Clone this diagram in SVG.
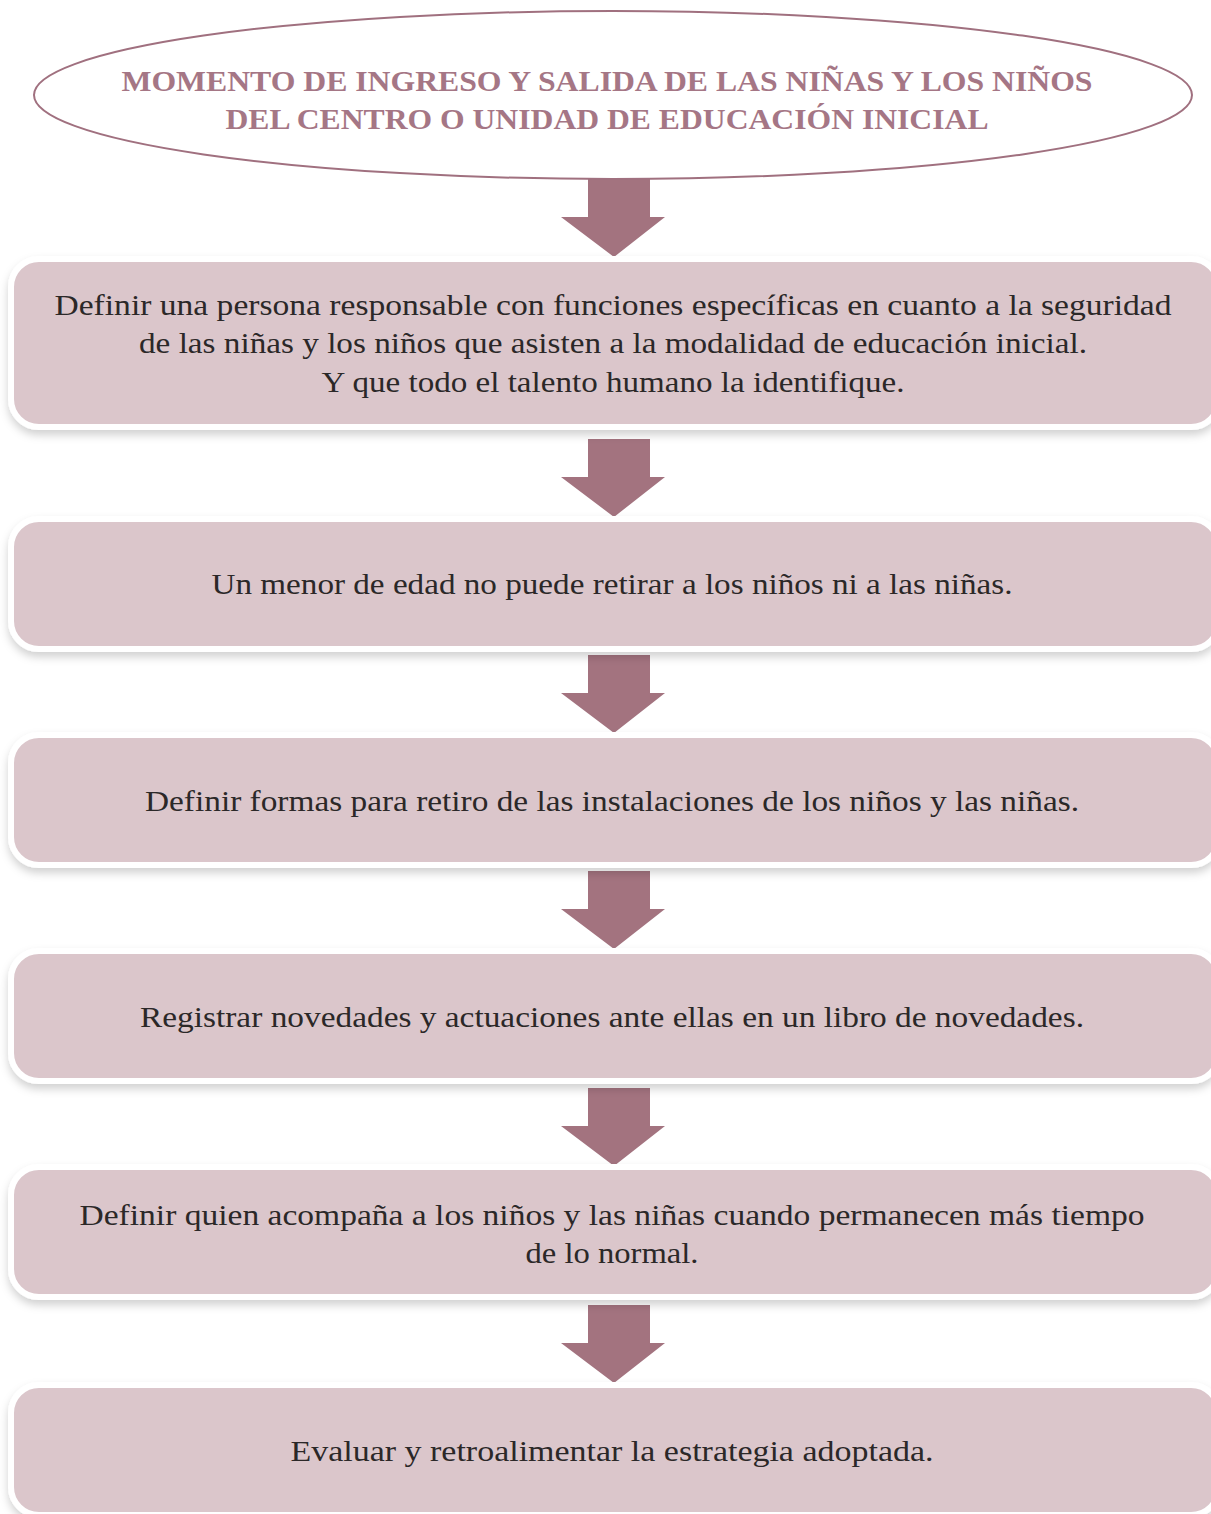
<svg xmlns="http://www.w3.org/2000/svg" width="1211" height="1514" viewBox="0 0 1211 1514">
<defs>
<filter id="sh" x="-5%" y="-20%" width="110%" height="150%">
<feDropShadow dx="0" dy="5" stdDeviation="4" flood-color="#000" flood-opacity="0.18"/>
</filter>
<path id="arr" d="M-26,0 H36 V38 H51 L0,78 L-53,38 H-26 Z"/>
</defs>
<style>
.box{fill:#dbc6cb;stroke:#ffffff;stroke-width:6;filter:url(#sh)}
.t{font-family:"Liberation Serif","DejaVu Serif",serif;font-size:29px;fill:#2b2828;text-anchor:middle}
.h{font-family:"Liberation Serif","DejaVu Serif",serif;font-size:30px;font-weight:bold;fill:#a57685;text-anchor:middle}
.a{fill:#a3737f}
</style>
<rect width="1211" height="1514" fill="#ffffff"/>
<g id="connectors">
<use href="#arr" class="a" x="614" y="179"/>
<use href="#arr" class="a" x="614" y="439"/>
<use href="#arr" class="a" x="614" y="655"/>
<use href="#arr" class="a" x="614" y="871"/>
<use href="#arr" class="a" x="614" y="1088"/>
<use href="#arr" class="a" x="614" y="1305"/>
</g>
<g id="title">
<ellipse cx="613" cy="95" rx="579" ry="84" fill="#ffffff" stroke="#a0707f" stroke-width="2"/>
<text class="h" x="607" y="91" textLength="971" lengthAdjust="spacingAndGlyphs">MOMENTO DE INGRESO Y SALIDA DE LAS NIÑAS Y LOS NIÑOS</text>
<text class="h" x="607" y="129" textLength="763" lengthAdjust="spacingAndGlyphs">DEL CENTRO O UNIDAD DE EDUCACIÓN INICIAL</text>
</g>
<g id="n1">
<rect class="box" x="11" y="259" width="1208" height="168" rx="28"/>
<text class="t" x="613" y="315" textLength="1117" lengthAdjust="spacingAndGlyphs">Definir una persona responsable con funciones específicas en cuanto a la seguridad</text>
<text class="t" x="613" y="353" textLength="948" lengthAdjust="spacingAndGlyphs">de las niñas y los niños que asisten a la modalidad de educación inicial.</text>
<text class="t" x="613" y="392" textLength="583" lengthAdjust="spacingAndGlyphs">Y que todo el talento humano la identifique.</text>
</g>
<g id="n2">
<rect class="box" x="11" y="519" width="1208" height="130" rx="28"/>
<text class="t" x="612" y="594" textLength="801" lengthAdjust="spacingAndGlyphs">Un menor de edad no puede retirar a los niños ni a las niñas.</text>
</g>
<g id="n3">
<rect class="box" x="11" y="735" width="1208" height="130" rx="28"/>
<text class="t" x="612" y="811" textLength="934" lengthAdjust="spacingAndGlyphs">Definir formas para retiro de las instalaciones de los niños y las niñas.</text>
</g>
<g id="n4">
<rect class="box" x="11" y="951" width="1208" height="130" rx="28"/>
<text class="t" x="612" y="1027" textLength="944" lengthAdjust="spacingAndGlyphs">Registrar novedades y actuaciones ante ellas en un libro de novedades.</text>
</g>
<g id="n5">
<rect class="box" x="11" y="1167" width="1208" height="130" rx="28"/>
<text class="t" x="612" y="1225" textLength="1065" lengthAdjust="spacingAndGlyphs">Definir quien acompaña a los niños y las niñas cuando permanecen más tiempo</text>
<text class="t" x="612" y="1263" textLength="173" lengthAdjust="spacingAndGlyphs">de lo normal.</text>
</g>
<g id="n6">
<rect class="box" x="11" y="1385" width="1208" height="130" rx="28"/>
<text class="t" x="612" y="1461" textLength="643" lengthAdjust="spacingAndGlyphs">Evaluar y retroalimentar la estrategia adoptada.</text>
</g>
</svg>
